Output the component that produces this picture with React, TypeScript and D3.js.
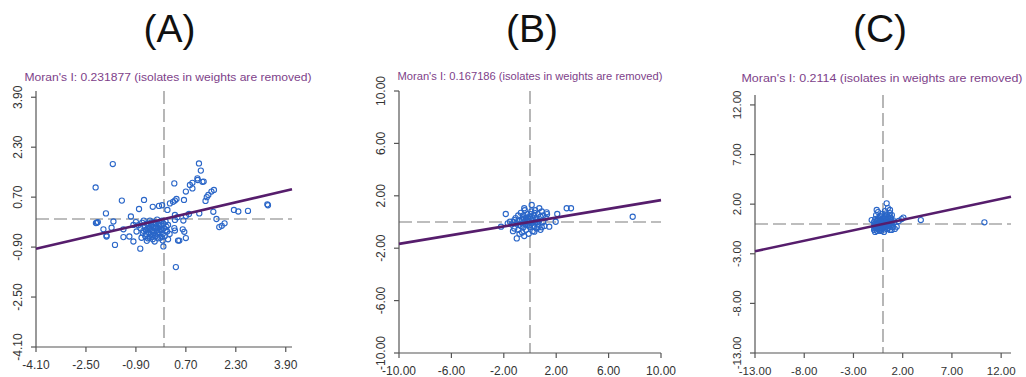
import React from "react";
import * as d3 from "d3";

// ---------- data ----------
const panelLabels = ["(A)", "(B)", "(C)"];
const moranValues = ["0.231877", "0.167186", "0.2114"];
const slopes = [0.231877, 0.167186, 0.2114];
const domainMax = [4.1, 10, 13];
const ticksA = [-4.1, -2.5, -0.9, 0.7, 2.3, 3.9];
const ticksB = [-10, -6, -2, 2, 6, 10];
const ticksC = [-13, -8, -3, 2, 7, 12];

const pointsA: [number, number][] = [
  [-1.64, 1.76], [-2.19, 1.01], [-1.35, 0.59], [-0.64, 0.61], [-0.8, 0.32], [-1.86, 0.18], [-2.18, -0.13],
  [-2.12, -0.1], [-1.62, -0.08], [-1.94, -0.33], [-1.84, -0.56], [-1.68, -0.28], [-1.57, -0.83], [-1.06, 0.08],
  [-1.3, -0.33], [-1.3, -0.58], [-1.11, -0.56], [-0.98, -0.72], [-0.76, -0.95], [-0.98, -0.19], [-0.36, 0.39],
  [-0.16, 0.42], [-0.06, 0.44], [0.11, 0.29], [0.19, 0.5], [0.33, 1.14], [0.35, 0.59], [0.4, 0.64], [0.29, 0.55],
  [0.64, 0.61], [0.7, 0.88], [0.83, 1.09], [0.91, 1.16], [1.08, 1.25], [1.23, 1.19], [1.27, 1.2], [1.12, 1.78],
  [1.18, 1.55], [1.07, 1.3], [0.91, 0.98], [1.42, 0.77], [1.37, 0.7], [1.33, 0.58], [1.52, 0.88], [1.6, 0.93],
  [1.58, 0.23], [1.68, 0], [1.77, -0.26], [1.85, -0.22], [1.94, -0.14], [2.24, 0.29], [2.38, 0.24], [2.69, 0.26],
  [3.31, 0.47], [3.33, 0.44], [0.35, 0.13], [0.35, -0.03], [0.43, 0.06], [0.62, -0.05], [0.7, 0.1], [0.8, 0.16],
  [1.13, 0.18], [0.13, -0.19], [0.05, -0.37], [0.18, -0.48], [0.13, -0.65], [-0.04, -0.69], [-0.02, -0.88],
  [0.45, -0.69], [0.6, -0.33], [0.65, -0.41], [0.7, -0.61], [0.49, -0.69], [0.38, -1.54], [0.33, -0.29],
  [0.35, -0.37], [-2.15, -0.12], [-1.84, -0.53],
  [-0.82, -0.2], [-0.75, -0.3], [-0.7, -0.12], [-0.68, -0.45], [-0.62, -0.25], [-0.6, -0.55], [-0.58, -0.35],
  [-0.55, -0.15], [-0.52, -0.62], [-0.5, -0.42], [-0.48, -0.28], [-0.45, -0.05], [-0.43, -0.5], [-0.4, -0.2],
  [-0.38, -0.36], [-0.36, -0.65], [-0.34, -0.1], [-0.32, -0.45], [-0.3, -0.28], [-0.28, -0.55], [-0.26, -0.18],
  [-0.24, -0.38], [-0.22, -0.02], [-0.2, -0.5], [-0.18, -0.3], [-0.16, -0.12], [-0.14, -0.42], [-0.12, -0.6],
  [-0.1, -0.22], [-0.08, -0.35], [-0.06, -0.05], [-0.04, -0.48], [-0.02, -0.15], [0.0, -0.3], [0.02, -0.55],
  [0.05, -0.08], [-0.65, -0.05], [-0.72, -0.6], [-0.88, -0.4], [-0.9, -0.1], [-0.55, -0.7], [-0.3, -0.72],
  [-0.45, -0.33], [-0.35, -0.25], [-0.25, -0.27], [-0.15, -0.2], [-0.5, -0.22], [-0.4, -0.58], [0.08, -0.25],
  [0.1, -0.4], [-0.66, -0.38], [-0.57, -0.48], [-0.47, -0.6], [-0.33, -0.38], [-0.21, -0.44], [-0.11, -0.32],
  [-0.27, -0.12], [-0.37, -0.52], [-0.53, -0.32], [-0.19, -0.62], [-0.07, -0.58], [-0.42, -0.12],
];

const pointsB: [number, number][] = [
  [7.84, 0.4], [2.8, 1.05], [3.13, 1.05], [2.08, 0.61], [1.96, 0.02], [1.47, -0.36], [1.27, 0.74], [0.13, 1.3],
  [0.71, 1.05], [-0.44, 1.05], [-1.85, 0.61], [-2.21, -0.36], [-1.01, -1.25], [-0.44, -1.07], [0.33, -0.74],
  [-1.53, 0.02], [-1.7, -0.1], [-1.2, 0.15], [1.0, 0.5], [0.9, -0.4], [-0.8, -0.9], [-1.3, -0.7],
  [-1.4, -0.2], [-1.2, -0.5], [-1.1, 0.3], [-1.0, -0.1], [-0.9, 0.5], [-0.9, -0.6], [-0.8, 0.1], [-0.7, -0.3],
  [-0.7, 0.7], [-0.6, -0.8], [-0.6, 0.2], [-0.5, -0.4], [-0.5, 0.5], [-0.4, 0.0], [-0.4, 0.9], [-0.3, -0.6],
  [-0.3, 0.3], [-0.2, -0.2], [-0.2, 0.6], [-0.1, -0.9], [-0.1, 0.1], [0.0, -0.4], [0.0, 0.4], [0.1, 0.8],
  [0.1, -0.1], [0.2, -0.7], [0.2, 0.2], [0.3, 0.5], [0.3, -0.3], [0.4, 0.0], [0.4, 0.9], [0.5, -0.5], [0.5, 0.3],
  [0.6, 0.6], [0.6, -0.2], [0.7, 0.1], [0.8, -0.6], [0.8, 0.4], [0.9, 0.8], [1.0, 0.0], [1.1, -0.3], [1.2, 0.3],
  [1.3, 0.6], [-0.8, -0.2], [-0.6, -0.1], [-0.2, 0.0], [0.15, 0.05], [-0.35, -0.15], [0.25, -0.05], [0.45, 0.2],
  [-0.55, 0.35], [-1.25, 0.0], [-0.15, 0.35], [0.65, -0.4], [-0.25, 0.15], [0.05, 0.6], [-0.45, 0.25],
  [0.35, 0.7], [-0.05, -0.25], [0.55, 0.0],
];

const pointsC: [number, number][] = [
  [10.3, 0.17], [3.84, 0.4], [2.07, 0.64], [1.9, 0.5], [0.37, 2.08], [0.71, 1.41], [-0.64, 1.41], [-1.15, 0.4],
  [1.39, -0.27], [0.88, -0.6], [1.6, 0.3],
  [-0.9, -0.6], [-0.9, -0.2], [-0.9, 0.2], [-0.8, -0.8], [-0.8, 0.5], [-0.7, -0.4], [-0.7, 0.0], [-0.7, 0.9],
  [-0.6, -0.7], [-0.6, 0.3], [-0.5, -0.3], [-0.5, 0.6], [-0.5, 1.2], [-0.4, -0.6], [-0.4, 0.1], [-0.3, -0.2],
  [-0.3, 0.8], [-0.2, -0.7], [-0.2, 0.4], [-0.1, 0.0], [-0.1, 1.0], [0.0, -0.4], [0.0, 0.6], [0.1, -0.8],
  [0.1, 0.2], [0.2, 1.3], [0.2, -0.3], [0.3, 0.5], [0.3, 0.9], [0.4, -0.5], [0.4, 0.1], [0.5, 1.6], [0.5, 0.7],
  [0.6, -0.2], [0.6, 0.3], [0.7, 1.1], [0.7, -0.6], [0.8, 0.6], [0.8, 0.0], [0.9, 0.9], [1.0, -0.3], [1.0, 0.4],
  [1.1, 0.1], [1.2, -0.5], [-0.85, -0.45], [-0.75, -0.15], [-0.55, -0.05], [-0.35, 0.35], [-0.15, -0.45],
  [0.05, 0.25], [0.25, 0.05], [0.45, 0.45], [0.65, 0.85], [0.15, 0.75], [-0.25, 0.15], [0.35, -0.1],
  [0.55, 0.05], [-0.45, -0.45], [0.75, 0.25], [0.95, 0.15], [-0.65, -0.25], [-0.45, 0.15], [-0.25, -0.45],
  [-0.05, 0.35], [0.15, -0.55], [0.35, 0.25], [0.55, -0.4], [0.75, 0.65], [-0.15, 0.75], [0.25, 1.05],
  [-0.85, 0.0], [-0.35, -0.65], [0.05, -0.15], [0.65, -0.05], [0.85, 0.35], [-0.55, 0.45],
];

// ---------- layout ----------
const W = 1026;
const H = 377;
const layouts = [
  { x0: 36, w: 256, bottom: 347, h: 256, labelX: 169.5, titleX: 168, titleY: 81, titleW: 287, tickFs: 12 },
  { x0: 399, w: 262, bottom: 353, h: 262, labelX: 532, titleX: 530, titleY: 80, titleW: 265, tickFs: 12 },
  { x0: 755, w: 256, bottom: 353, h: 258, labelX: 880, titleX: 882, titleY: 82, titleW: 281, tickFs: 11.5 },
];
const allPoints = [pointsA, pointsB, pointsC];
const allTicks = [ticksA, ticksB, ticksC];

const FONT = "'Liberation Sans', Arial, sans-serif";
const PURPLE_TEXT = "#7e3f8a";
const LINE_COLOR = "#561d6c";
const POINT_COLOR = "#2a66c8";
const AXIS_COLOR = "#555";
const DASH_COLOR = "#7c7c7c";

function Panel({ i }: { i: number }) {
  const L = layouts[i];
  const m = domainMax[i];
  const x = d3.scaleLinear().domain([-m, m]).range([L.x0, L.x0 + L.w]);
  const y = d3.scaleLinear().domain([-m, m]).range([L.bottom, L.bottom - L.h]);
  const ticks = allTicks[i];
  const pts = allPoints[i];
  const line = d3.line<number>().x((v) => x(v)).y((v) => y(v * slopes[i]));
  const tickLen = 5;
  return (
    <g>
      <text x={L.labelX} y={42} fontFamily={FONT} fontSize={39} textAnchor="middle" fill="#111">
        {panelLabels[i]}
      </text>
      <text
        x={L.titleX}
        y={L.titleY}
        fontFamily={FONT}
        fontSize={11.5}
        textAnchor="middle"
        fill={PURPLE_TEXT}
        textLength={L.titleW}
        lengthAdjust="spacingAndGlyphs"
      >
        {`Moran's I: ${moranValues[i]} (isolates in weights are removed)`}
      </text>
      {/* dashed reference lines */}
      <line x1={x(0)} x2={x(0)} y1={y(m)} y2={y(-m)} stroke={DASH_COLOR} strokeWidth={1.1} strokeDasharray="13,5" />
      <line x1={x(-m)} x2={x(m)} y1={y(0)} y2={y(0)} stroke={DASH_COLOR} strokeWidth={1.1} strokeDasharray="13,5" />
      {/* axes */}
      <line x1={x(-m)} x2={x(m)} y1={L.bottom} y2={L.bottom} stroke={AXIS_COLOR} strokeWidth={1.2} />
      <line x1={L.x0} x2={L.x0} y1={y(-m)} y2={y(m)} stroke={AXIS_COLOR} strokeWidth={1.2} />
      {ticks.map((t) => (
        <g key={"xt" + t}>
          <line x1={x(t)} x2={x(t)} y1={L.bottom} y2={L.bottom + tickLen} stroke={AXIS_COLOR} strokeWidth={1.2} />
          <text x={x(t)} y={L.bottom + 22} fontFamily={FONT} fontSize={L.tickFs} textAnchor="middle" fill="#333">
            {t.toFixed(2)}
          </text>
        </g>
      ))}
      {ticks.map((t) => (
        <g key={"yt" + t}>
          <line x1={L.x0 - tickLen} x2={L.x0} y1={y(t)} y2={y(t)} stroke={AXIS_COLOR} strokeWidth={1.2} />
          <text
            transform={`translate(${L.x0 - 14},${y(t)}) rotate(-90)`}
            fontFamily={FONT}
            fontSize={L.tickFs}
            textAnchor="middle"
            fill="#333"
          >
            {t.toFixed(2)}
          </text>
        </g>
      ))}
      {/* points */}
      {pts.map((p, k) => (
        <circle key={k} cx={x(p[0])} cy={y(p[1])} r={2.6} fill="none" stroke={POINT_COLOR} strokeWidth={1.1} />
      ))}
      {/* regression line */}
      <path d={line([-m, m]) || ""} stroke={LINE_COLOR} strokeWidth={2.6} fill="none" />
    </g>
  );
}

export default function App() {
  return (
    <svg
      width={W}
      height={H}
      style={{ position: "absolute", left: 0, top: 0, background: "#fff" }}
      xmlns="http://www.w3.org/2000/svg"
    >
      <rect width={W} height={H} fill="#fff" />
      {[0, 1, 2].map((i) => (
        <Panel key={i} i={i} />
      ))}
    </svg>
  );
}
